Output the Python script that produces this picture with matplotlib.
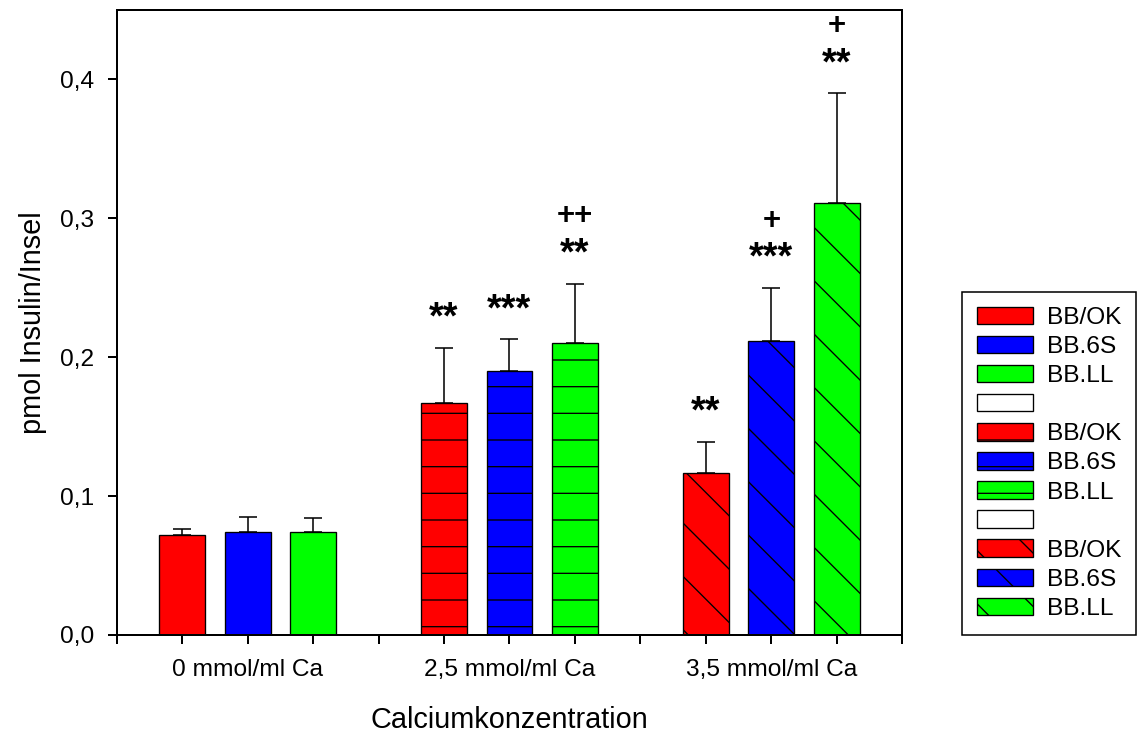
import matplotlib
matplotlib.use("Agg")
import matplotlib.pyplot as plt
from matplotlib.patches import Patch
from matplotlib.ticker import FuncFormatter

plt.rcParams['font.family'] = ['Liberation Sans', 'DejaVu Sans']
plt.rcParams['hatch.linewidth'] = 0.6

# data
groups = ["0 mmol/ml Ca", "2,5 mmol/ml Ca", "3,5 mmol/ml Ca"]
strains = ["BB/OK", "BB.6S", "BB.LL"]
colors = ["#ff0000", "#0000ff", "#00ff00"]
hatches = ["", "-", "\\"]

means = [
    [0.072, 0.074, 0.074],
    [0.167, 0.190, 0.210],
    [0.117, 0.212, 0.311],
]
errors = [
    [0.0045, 0.011, 0.0105],
    [0.040, 0.023, 0.043],
    [0.022, 0.038, 0.079],
]
stars = [
    ["", "", ""],
    ["**", "***", "**"],
    ["**", "***", "**"],
]
plus = [
    ["", "", ""],
    ["", "", "++"],
    ["", "+", "+"],
]

fig = plt.figure(figsize=(1138 / 160, 737 / 160), dpi=160)
ax = fig.add_axes([0.1025, 0.1384, 0.6904, 0.848])

handles = []
for g in range(len(groups)):
    for s in range(len(strains)):
        pos = g * 4 + s + 1
        top = means[g][s] + errors[g][s]
        ax.bar(pos, means[g][s], width=0.7, color=colors[s], hatch=hatches[g],
               edgecolor="black", linewidth=0.6, zorder=2)
        ax.errorbar(pos, means[g][s], yerr=[[0], [errors[g][s]]], fmt="none",
                    ecolor="black", elinewidth=0.7, capsize=4, capthick=0.7, zorder=3)
        if stars[g][s]:
            ax.annotate(stars[g][s], (pos, top), xytext=(0, 5), textcoords="offset points",
                        ha="center", va="bottom", fontsize=17, fontweight="bold")
        if plus[g][s]:
            ax.annotate(plus[g][s], (pos, top), xytext=(0, 23.5), textcoords="offset points",
                        ha="center", va="bottom", fontsize=14, fontweight="bold")
        handles.append(Patch(facecolor=colors[s], hatch=hatches[g],
                             edgecolor="black", linewidth=0.6))
    if g < len(groups) - 1:
        handles.append(Patch(facecolor="white", edgecolor="black", linewidth=0.6))

labels = []
for g in range(len(groups)):
    labels += strains
    if g < len(groups) - 1:
        labels.append("")

ax.set_xlim(0, 12)
ax.set_ylim(0, 0.45)
ax.set_xticks(range(13))
ax.set_xticklabels(["", "", groups[0], "", "", "", groups[1], "", "", "", groups[2], "", ""])
ax.set_yticks([0, 0.1, 0.2, 0.3, 0.4])
ax.yaxis.set_major_formatter(FuncFormatter(lambda v, p: f"{v:.1f}".replace(".", ",")))
ax.tick_params(direction="out", length=4, width=0.9, labelsize=11, pad=6)
ax.tick_params(axis="x", pad=7)
for sp in ax.spines.values():
    sp.set_linewidth(0.9)

ax.set_xlabel("Calciumkonzentration", fontsize=13, labelpad=11)
ax.set_ylabel("pmol Insulin/Insel", fontsize=13, labelpad=6)

leg = fig.legend(handles, labels, loc="upper left",
                 bbox_to_anchor=(962 / 1138, 1 - 292 / 737), borderaxespad=0,
                 fontsize=11, handlelength=2.32, handleheight=0.72,
                 handletextpad=0.57, labelspacing=0.28, borderpad=0.6,
                 fancybox=False, framealpha=1, edgecolor="black")
leg.get_frame().set_linewidth(0.7)

fig.savefig("out.png", dpi=160)
